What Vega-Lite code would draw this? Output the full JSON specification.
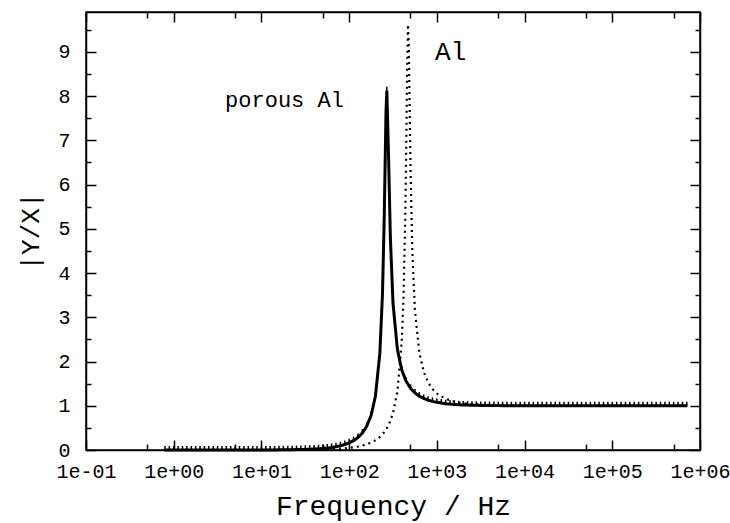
{
  "$schema": "https://vega.github.io/schema/vega-lite/v6.json",
  "width": 614,
  "height": 438,
  "autosize": "none",
  "padding": {"left": 86, "top": 12, "right": 30, "bottom": 73},
  "background": "white",
  "config": {
    "view": {"stroke": "black", "strokeWidth": 1.5},
    "axis": {
      "grid": false,
      "domainColor": "black",
      "domainWidth": 1.5,
      "tickColor": "black",
      "tickWidth": 1.5,
      "labelColor": "black",
      "titleColor": "black",
      "labelFont": "Liberation Mono",
      "titleFont": "Liberation Mono",
      "labelFontSize": 20,
      "titleFontSize": 28,
      "titleFontWeight": "normal"
    }
  },
  "datasets": {
    "porous": [
      {"f": 0.794, "v": 0.0}, {"f": 0.891, "v": 0.0}, {"f": 1, "v": 0.0}, {"f": 1.122, "v": 0.0}, {"f": 1.259, "v": 0.0},
      {"f": 1.413, "v": 0.0}, {"f": 1.585, "v": 0.0}, {"f": 1.778, "v": 0.0}, {"f": 1.995, "v": 0.0001}, {"f": 2.239, "v": 0.0001},
      {"f": 2.512, "v": 0.0001}, {"f": 2.818, "v": 0.0001}, {"f": 3.162, "v": 0.0001}, {"f": 3.548, "v": 0.0002}, {"f": 3.981, "v": 0.0002},
      {"f": 4.467, "v": 0.0003}, {"f": 5.012, "v": 0.0004}, {"f": 5.623, "v": 0.0004}, {"f": 6.31, "v": 0.0006}, {"f": 7.079, "v": 0.0007},
      {"f": 7.943, "v": 0.0009}, {"f": 8.913, "v": 0.0011},
      {"f": 10, "v": 0.0014}, {"f": 11.22, "v": 0.0018}, {"f": 12.59, "v": 0.0022}, {"f": 14.13, "v": 0.0028}, {"f": 15.85, "v": 0.0035},
      {"f": 17.78, "v": 0.0044}, {"f": 19.95, "v": 0.0056}, {"f": 22.39, "v": 0.007}, {"f": 25.12, "v": 0.0089}, {"f": 28.18, "v": 0.0112},
      {"f": 31.62, "v": 0.0141}, {"f": 35.48, "v": 0.0179}, {"f": 39.81, "v": 0.0226}, {"f": 44.67, "v": 0.0286}, {"f": 50.12, "v": 0.0363},
      {"f": 56.23, "v": 0.0461}, {"f": 63.1, "v": 0.0587}, {"f": 70.79, "v": 0.075}, {"f": 79.43, "v": 0.0963}, {"f": 89.13, "v": 0.1243},
      {"f": 100, "v": 0.1616}, {"f": 112.2, "v": 0.2123}, {"f": 125.9, "v": 0.2826}, {"f": 141.3, "v": 0.3835}, {"f": 158.5, "v": 0.535},
      {"f": 177.8, "v": 0.779}, {"f": 199.5, "v": 1.219}, {"f": 223.9, "v": 2.189}, {"f": 239.9, "v": 3.53}, {"f": 251.2, "v": 5.25},
      {"f": 263.0, "v": 7.62}, {"f": 269.0, "v": 8.12}, {"f": 281.8, "v": 6.59}, {"f": 295.1, "v": 4.8}, {"f": 316.2, "v": 3.32},
      {"f": 354.8, "v": 2.274}, {"f": 398.1, "v": 1.807}, {"f": 446.7, "v": 1.552}, {"f": 501.2, "v": 1.394}, {"f": 562.3, "v": 1.29},
      {"f": 631.0, "v": 1.218}, {"f": 707.9, "v": 1.165}, {"f": 794.3, "v": 1.127}, {"f": 891.3, "v": 1.099},
      {"f": 1000, "v": 1.077}, {"f": 1122, "v": 1.06}, {"f": 1259, "v": 1.047}, {"f": 1413, "v": 1.037}, {"f": 1585, "v": 1.029},
      {"f": 1778, "v": 1.023}, {"f": 1995, "v": 1.018}, {"f": 2239, "v": 1.015}, {"f": 2512, "v": 1.012}, {"f": 2818, "v": 1.009},
      {"f": 3162, "v": 1.007}, {"f": 3548, "v": 1.006}, {"f": 3981, "v": 1.005}, {"f": 4467, "v": 1.004}, {"f": 5012, "v": 1.003},
      {"f": 5623, "v": 1.002}, {"f": 6310, "v": 1.002}, {"f": 7079, "v": 1.001}, {"f": 7943, "v": 1.001}, {"f": 8913, "v": 1.001},
      {"f": 10000, "v": 1.0}, {"f": 11220, "v": 1.0}, {"f": 12590, "v": 1.0}, {"f": 14130, "v": 1.0}, {"f": 15850, "v": 1.0},
      {"f": 17780, "v": 1.0}, {"f": 19950, "v": 1.0}, {"f": 22390, "v": 1.0}, {"f": 25120, "v": 1.0}, {"f": 28180, "v": 1.0},
      {"f": 31620, "v": 1.0}, {"f": 35480, "v": 1.0}, {"f": 39810, "v": 1.0}, {"f": 44670, "v": 1.0}, {"f": 50120, "v": 1.0},
      {"f": 56230, "v": 1.0}, {"f": 63100, "v": 1.0}, {"f": 70790, "v": 1.0}, {"f": 79430, "v": 1.0}, {"f": 89130, "v": 1.0},
      {"f": 100000, "v": 1.0}, {"f": 112200, "v": 1.0}, {"f": 125900, "v": 1.0}, {"f": 141300, "v": 1.0}, {"f": 158500, "v": 1.0},
      {"f": 177800, "v": 1.0}, {"f": 199500, "v": 1.0}, {"f": 223900, "v": 1.0}, {"f": 251200, "v": 1.0}, {"f": 281800, "v": 1.0},
      {"f": 316200, "v": 1.0}, {"f": 354800, "v": 1.0}, {"f": 398100, "v": 1.0}, {"f": 446700, "v": 1.0}, {"f": 501200, "v": 1.0},
      {"f": 562300, "v": 1.0}, {"f": 631000, "v": 1.0}, {"f": 707900, "v": 1.0}
    ],
    "al": [
      {"f": 0.794, "v": 0.0}, {"f": 1, "v": 0.0}, {"f": 1.585, "v": 0.0}, {"f": 2.512, "v": 0.0}, {"f": 3.981, "v": 0.0001},
      {"f": 6.31, "v": 0.0002}, {"f": 7.943, "v": 0.0003}, {"f": 8.913, "v": 0.0004},
      {"f": 10, "v": 0.0005}, {"f": 11.22, "v": 0.0006}, {"f": 12.59, "v": 0.0007}, {"f": 14.13, "v": 0.0009}, {"f": 15.85, "v": 0.0011},
      {"f": 17.78, "v": 0.0014}, {"f": 19.95, "v": 0.0018}, {"f": 22.39, "v": 0.0023}, {"f": 25.12, "v": 0.0029}, {"f": 28.18, "v": 0.0036},
      {"f": 31.62, "v": 0.0046}, {"f": 35.48, "v": 0.0058}, {"f": 39.81, "v": 0.0073}, {"f": 44.67, "v": 0.0092}, {"f": 50.12, "v": 0.0116},
      {"f": 56.23, "v": 0.0146}, {"f": 63.1, "v": 0.0184}, {"f": 70.79, "v": 0.0233}, {"f": 79.43, "v": 0.0295}, {"f": 89.13, "v": 0.0375},
      {"f": 100, "v": 0.0477}, {"f": 112.2, "v": 0.0608}, {"f": 125.9, "v": 0.0777}, {"f": 141.3, "v": 0.0998}, {"f": 158.5, "v": 0.1289},
      {"f": 177.8, "v": 0.1679}, {"f": 199.5, "v": 0.2208}, {"f": 223.9, "v": 0.2947}, {"f": 251.2, "v": 0.4015}, {"f": 281.8, "v": 0.5632},
      {"f": 316.2, "v": 0.828}, {"f": 354.8, "v": 1.319}, {"f": 398.1, "v": 2.465}, {"f": 416.9, "v": 3.456}, {"f": 436.5, "v": 5.27},
      {"f": 446.7, "v": 6.71}, {"f": 457.1, "v": 8.43}, {"f": 469.1, "v": 9.62}, {"f": 478.6, "v": 9.14}, {"f": 501.2, "v": 6.34},
      {"f": 524.8, "v": 4.51}, {"f": 562.3, "v": 3.161}, {"f": 631.0, "v": 2.203}, {"f": 707.9, "v": 1.769}, {"f": 794.3, "v": 1.529},
      {"f": 891.3, "v": 1.379}, {"f": 1000, "v": 1.28}, {"f": 1122, "v": 1.21}, {"f": 1259, "v": 1.16}, {"f": 1413, "v": 1.123},
      {"f": 1585, "v": 1.095}, {"f": 1778, "v": 1.074}, {"f": 1995, "v": 1.058}, {"f": 2239, "v": 1.046}, {"f": 2512, "v": 1.036},
      {"f": 2818, "v": 1.029}, {"f": 3162, "v": 1.023}, {"f": 3548, "v": 1.018}, {"f": 3981, "v": 1.014}, {"f": 4467, "v": 1.011},
      {"f": 5012, "v": 1.009}, {"f": 5623, "v": 1.007}, {"f": 6310, "v": 1.006}, {"f": 7079, "v": 1.004}, {"f": 7943, "v": 1.004},
      {"f": 8913, "v": 1.003}, {"f": 10000, "v": 1.002}, {"f": 11220, "v": 1.001}, {"f": 14130, "v": 1.001}, {"f": 17780, "v": 1.001},
      {"f": 22390, "v": 1.0}, {"f": 31620, "v": 1.0}, {"f": 50120, "v": 1.0}, {"f": 79430, "v": 1.0}, {"f": 125900, "v": 1.0},
      {"f": 199500, "v": 1.0}, {"f": 316200, "v": 1.0}, {"f": 501200, "v": 1.0}, {"f": 707900, "v": 1.0}
    ]
  },
  "layer": [
    {
      "data": {"name": "al"},
      "mark": {"type": "line", "color": "black", "strokeWidth": 2.2, "strokeDash": [2, 4]},
      "encoding": {
        "x": {
          "field": "f", "type": "quantitative",
          "scale": {"type": "log", "domain": [0.1, 1000000], "nice": false},
          "axis": {
            "orient": "bottom",
            "values": [0.1, 1, 10, 100, 1000, 10000, 100000, 1000000],
            "tickSize": -10,
            "labelPadding": 21,
            "labelFlush": false,
            "labelOverlap": false,
            "labelExpr": "'1e' + (log(datum.value)/LN10 < -0.5 ? '-' : '+') + '0' + abs(round(log(datum.value)/LN10))",
            "title": "Frequency / Hz",
            "titleY": 64,
            "titleBaseline": "alphabetic"
          }
        },
        "y": {
          "field": "v", "type": "quantitative",
          "scale": {"domain": [0, 9.9], "nice": false},
          "axis": {
            "orient": "left",
            "values": [0, 1, 2, 3, 4, 5, 6, 7, 8, 9],
            "format": "d",
            "tickSize": -10,
            "labelPadding": 26,
            "labelFlush": false,
            "labelOverlap": false,
            "title": "|Y/X|",
            "titleX": -56,
            "titleY": 219,
            "titleAngle": -90,
            "titleBaseline": "middle",
            "titleAlign": "center",
            "titleFontSize": 26
          }
        }
      }
    },
    {
      "data": {"name": "porous"},
      "mark": {"type": "line", "color": "black", "strokeWidth": 3, "point": {"shape": "M0,-2V0.5", "size": 16, "filled": false, "stroke": "black", "strokeWidth": 1.5}},
      "encoding": {
        "x": {
          "field": "f", "type": "quantitative",
          "scale": {"type": "log", "domain": [0.1, 1000000], "nice": false},
          "axis": {"orient": "top", "values": [0.1, 1, 10, 100, 1000, 10000, 100000, 1000000], "tickSize": -10, "labels": false, "title": null}
        },
        "y": {
          "field": "v", "type": "quantitative",
          "scale": {"domain": [0, 9.9], "nice": false},
          "axis": {"orient": "right", "values": [0, 1, 2, 3, 4, 5, 6, 7, 8, 9], "tickSize": -10, "labels": false, "title": null}
        }
      }
    },
    {
      "data": {"values": [{"f": 3.85, "v": 7.75, "t": "porous Al"}]},
      "mark": {"type": "text", "align": "left", "baseline": "alphabetic", "font": "Liberation Mono", "fontSize": 22, "color": "black"},
      "encoding": {
        "x": {
          "field": "f", "type": "quantitative",
          "scale": {"type": "log", "domain": [0.1, 1000000], "nice": false},
          "axis": {"orient": "bottom", "values": [0.5, 5, 50, 500, 5000, 50000, 500000], "tickSize": -6, "labels": false, "domain": false, "title": null}
        },
        "y": {
          "field": "v", "type": "quantitative",
          "scale": {"domain": [0, 9.9], "nice": false},
          "axis": {"orient": "left", "values": [0.5, 1.5, 2.5, 3.5, 4.5, 5.5, 6.5, 7.5, 8.5, 9.5], "tickSize": -5, "labels": false, "domain": false, "title": null}
        },
        "text": {"field": "t"}
      }
    },
    {
      "data": {"values": [{"f": 955, "v": 8.82, "t": "Al"}]},
      "mark": {"type": "text", "align": "left", "baseline": "alphabetic", "font": "Liberation Mono", "fontSize": 26, "color": "black"},
      "encoding": {
        "x": {
          "field": "f", "type": "quantitative",
          "scale": {"type": "log", "domain": [0.1, 1000000], "nice": false},
          "axis": {"orient": "top", "values": [0.5, 5, 50, 500, 5000, 50000, 500000], "tickSize": -6, "labels": false, "domain": false, "title": null}
        },
        "y": {
          "field": "v", "type": "quantitative",
          "scale": {"domain": [0, 9.9], "nice": false},
          "axis": {"orient": "right", "values": [0.5, 1.5, 2.5, 3.5, 4.5, 5.5, 6.5, 7.5, 8.5, 9.5], "tickSize": -5, "labels": false, "domain": false, "title": null}
        },
        "text": {"field": "t"}
      }
    }
  ],
  "resolve": {"axis": {"x": "independent", "y": "independent"}}
}
